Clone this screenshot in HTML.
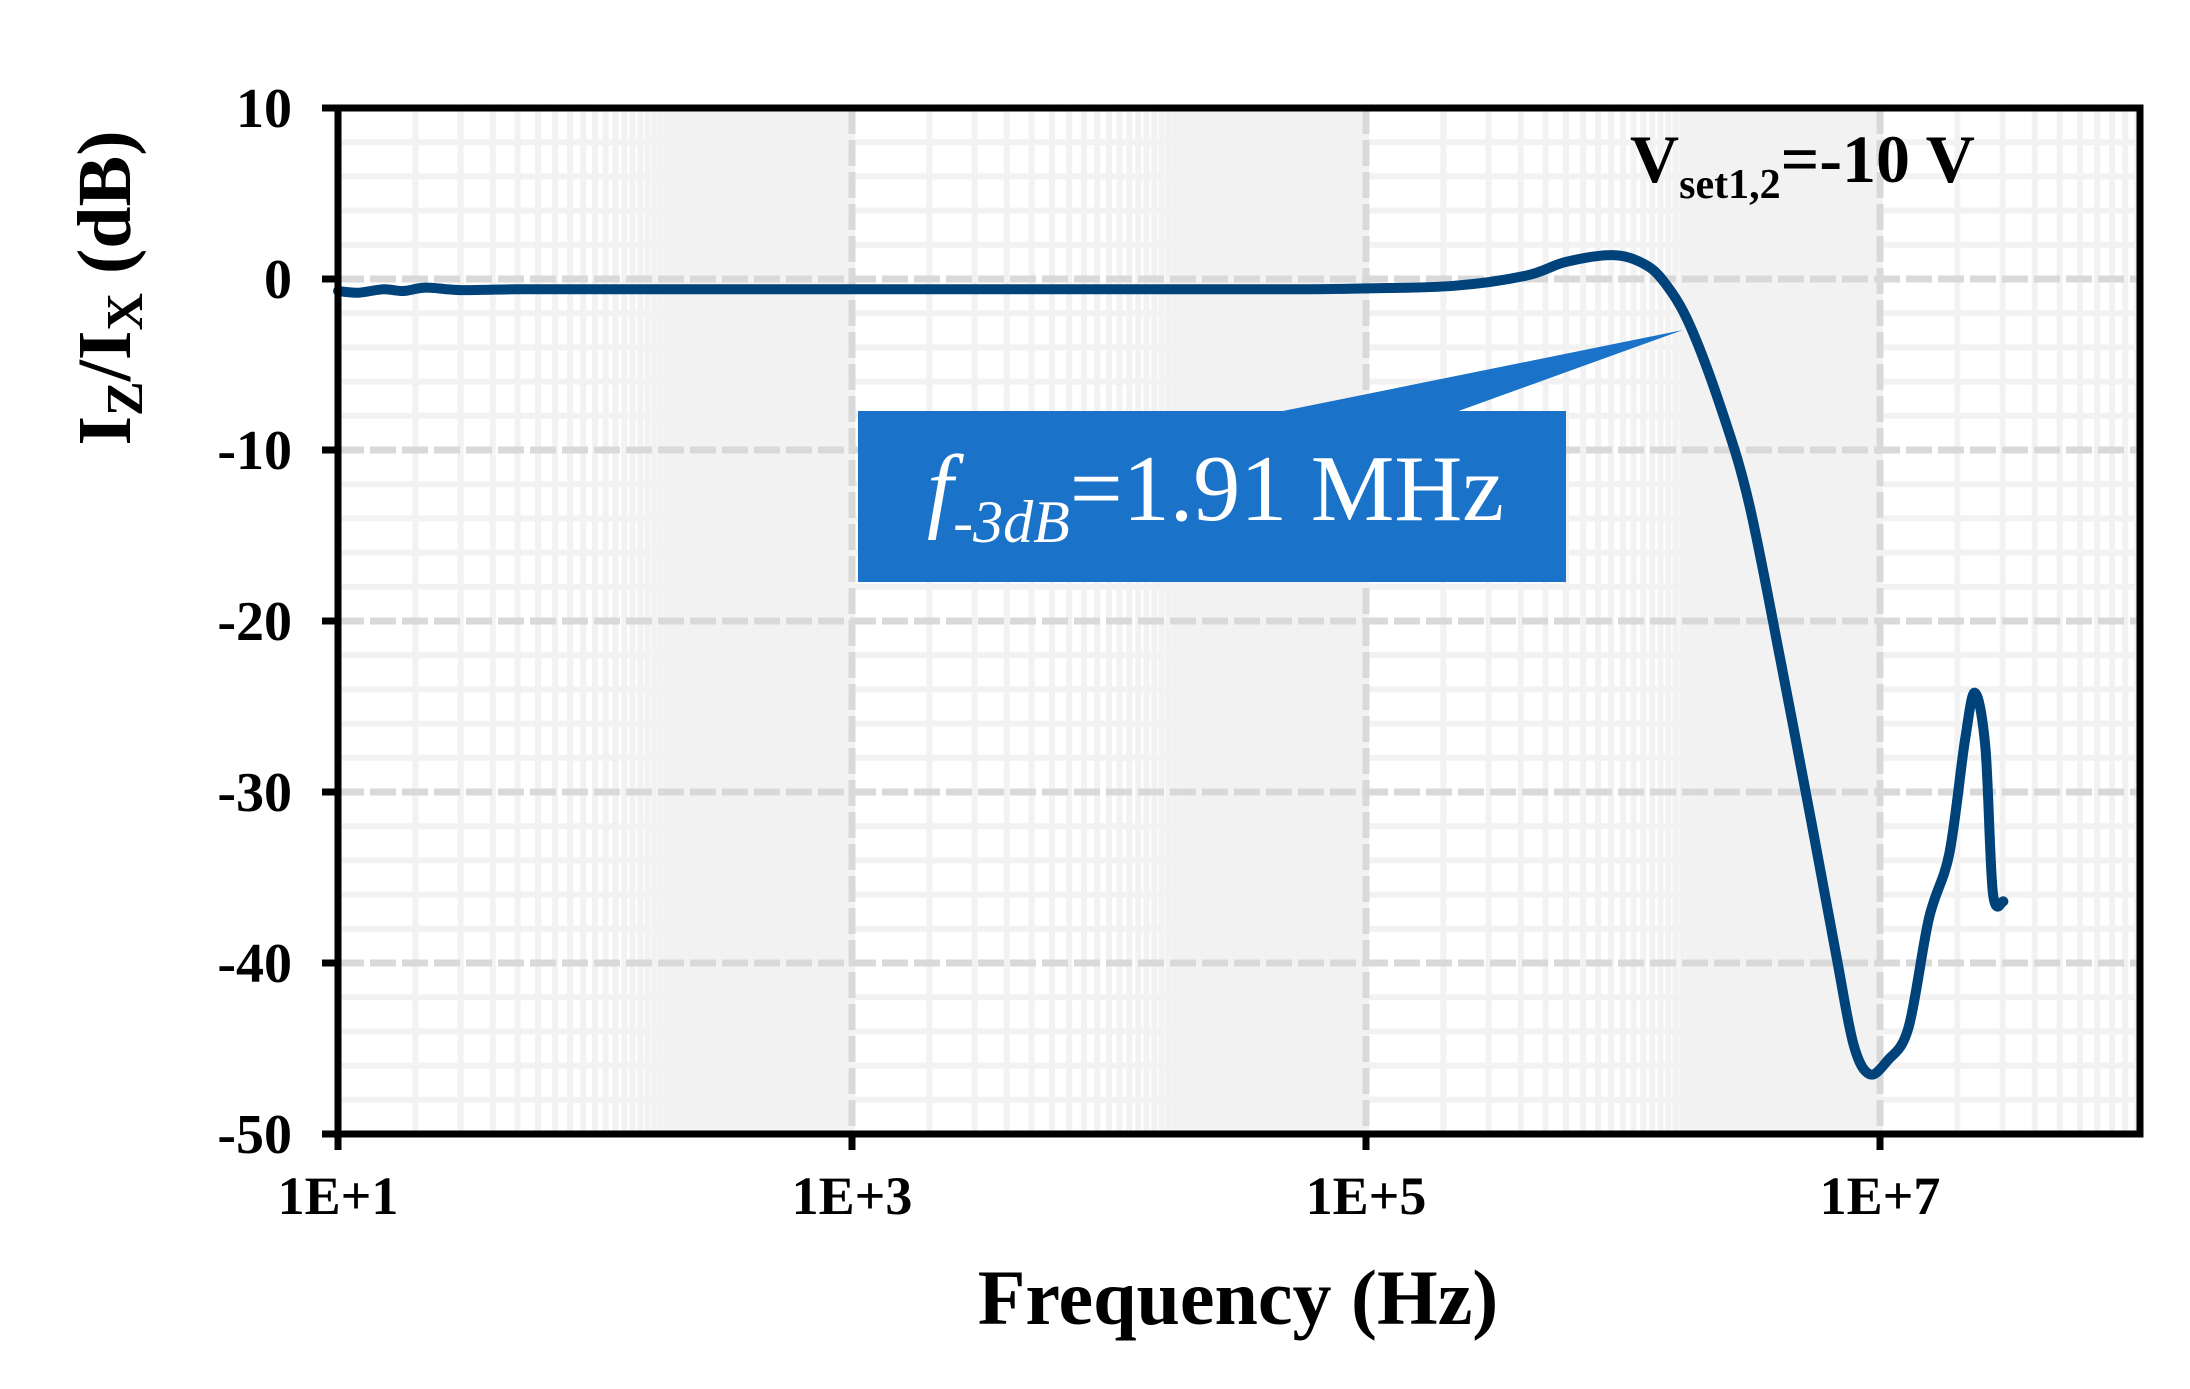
<!DOCTYPE html>
<html><head><meta charset="utf-8"><style>
html,body{margin:0;padding:0;background:#fff;}
svg{display:block;font-family:"Liberation Serif",serif;}
</style></head><body>
<svg id="chart" width="2190" height="1389" viewBox="0 0 2190 1389" xmlns="http://www.w3.org/2000/svg">
<rect x="0" y="0" width="2190" height="1389" fill="#fff"/>
<g id="grid"></g>
<g id="series"></g>
<g id="annot">
<polygon points="1273,413 1453,413 1683,330" fill="#1a73c8"/>
<rect x="858" y="411" width="708" height="171" fill="#1a73c8"/>
<text x="927" y="520" fill="#fff" font-size="94"><tspan font-style="italic">f</tspan><tspan font-style="italic" font-size="60" dy="22">-3dB</tspan><tspan dy="-22">=1.91 MHz</tspan></text>
<text x="1630" y="182" font-size="68" font-weight="bold">V<tspan font-size="42" dy="16">set1,2</tspan><tspan dy="-16">=-10 V</tspan></text>
</g>
<g id="axes"></g>
<text x="1238" y="1324" font-size="78" font-weight="bold" text-anchor="middle">Frequency (Hz)</text>
<text transform="translate(130,288) rotate(-90)" font-size="76" font-weight="bold" text-anchor="middle">I<tspan font-size="52" dy="12">Z</tspan><tspan dy="-12">/I</tspan><tspan font-size="52" dy="12">X</tspan><tspan dy="-12"> (dB)</tspan></text>
</svg>
<script>
const freqs=[10,12,15,18,22,30,50,100,1000,1e4,5.6e4,1e5,2.2e5,4.2e5,6e5,9.1e5,1.2e6,1.45e6,1.82e6,2.45e6,3.1e6,4.1e6,5.4e6,6.8e6,7.9e6,9.1e6,1.07e7,1.29e7,1.55e7,1.86e7,2.14e7,2.34e7,2.57e7,2.75e7,3.02e7];
const gains=[-0.7,-0.8,-0.6,-0.7,-0.5,-0.65,-0.6,-0.6,-0.6,-0.6,-0.6,-0.55,-0.4,0.2,1.0,1.4,0.9,-0.2,-2.7,-7.9,-13.2,-22.3,-31.7,-39.8,-44.8,-46.5,-45.7,-43.8,-37.4,-33.6,-27.0,-24.2,-27.4,-35.9,-36.4];
const yTicks=[10,0,-10,-20,-30,-40,-50];
const xTickExps=[1,3,5,7];
const xTickLabels=["1E+1","1E+3","1E+5","1E+7"];
const NS="http://www.w3.org/2000/svg";
const L=338,R=2140,T=108,B=1134,DEC=257;
const X=f=>L+(Math.log10(f)-1)*DEC;
const Y=v=>T+(10-v)*(B-T)/60;
function mk(tag,attrs,parent){const e=document.createElementNS(NS,tag);for(const k in attrs)e.setAttribute(k,attrs[k]);parent.appendChild(e);return e;}
const grid=document.getElementById('grid');
let r=mk('rect',{x:L,y:T,width:R-L,height:B-T,fill:'#fff'},grid);


for(let v=-48;v<10;v+=2){if(v%10===0)continue;let l=mk('line',{x1:L,x2:R,y1:Y(v),y2:Y(v),stroke:'#f2f2f2','stroke-width':6},grid);

}
for(let m=1;m<8;m+=2){for(let k=2;k<=100;k++){const f=Math.pow(10,m)*k;const x=X(f);if(x>R)break;let l=mk('line',{x1:x,x2:x,y1:T,y2:B,stroke:'#f2f2f2','stroke-width':6},grid);

}}
yTicks.forEach(v=>{let l=mk('line',{x1:L,x2:R,y1:Y(v),y2:Y(v),stroke:'#d9d9d9','stroke-width':7,'stroke-dasharray':'26,6'},grid);

});
xTickExps.forEach(e=>{const x=X(Math.pow(10,e));let l=mk('line',{x1:x,x2:x,y1:T,y2:B,stroke:'#d9d9d9','stroke-width':7,'stroke-dasharray':'26,6'},grid);

});
// series (Catmull-Rom smoothing)
const pts=freqs.map((f,i)=>[X(f),Y(gains[i])]);
let d='M'+pts[0][0].toFixed(1)+','+pts[0][1].toFixed(1);
for(let i=0;i<pts.length-1;i++){const p0=pts[Math.max(0,i-1)],p1=pts[i],p2=pts[i+1],p3=pts[Math.min(pts.length-1,i+2)];
const c1=[p1[0]+(p2[0]-p0[0])/6,p1[1]+(p2[1]-p0[1])/6],c2=[p2[0]-(p3[0]-p1[0])/6,p2[1]-(p3[1]-p1[1])/6];
d+=' C'+c1[0].toFixed(1)+','+c1[1].toFixed(1)+' '+c2[0].toFixed(1)+','+c2[1].toFixed(1)+' '+p2[0].toFixed(1)+','+p2[1].toFixed(1);}
const ser=document.getElementById('series');
let p=mk('path',{d:d,fill:'none',stroke:'#00427a','stroke-width':10,'stroke-linejoin':'round','stroke-linecap':'round'},ser);


const ax=document.getElementById('axes');
let fr=mk('rect',{x:L,y:T,width:R-L,height:B-T,fill:'none',stroke:'#000','stroke-width':7},ax);


yTicks.forEach(v=>{let t=mk('line',{x1:L-16,x2:L,y1:Y(v),y2:Y(v),stroke:'#000','stroke-width':7},ax);


let tx=mk('text',{x:292,y:Y(v)+19,'font-size':56,'font-weight':'bold','text-anchor':'end'},ax);tx.textContent=String(v);

});
xTickExps.forEach((e,i)=>{const x=X(Math.pow(10,e));let t=mk('line',{x1:x,x2:x,y1:B,y2:B+16,stroke:'#000','stroke-width':7},ax);


let tx=mk('text',{x:x,y:1214,'font-size':54,'font-weight':'bold','text-anchor':'middle'},ax);tx.textContent=xTickLabels[i];

});
</script>
</body></html>
